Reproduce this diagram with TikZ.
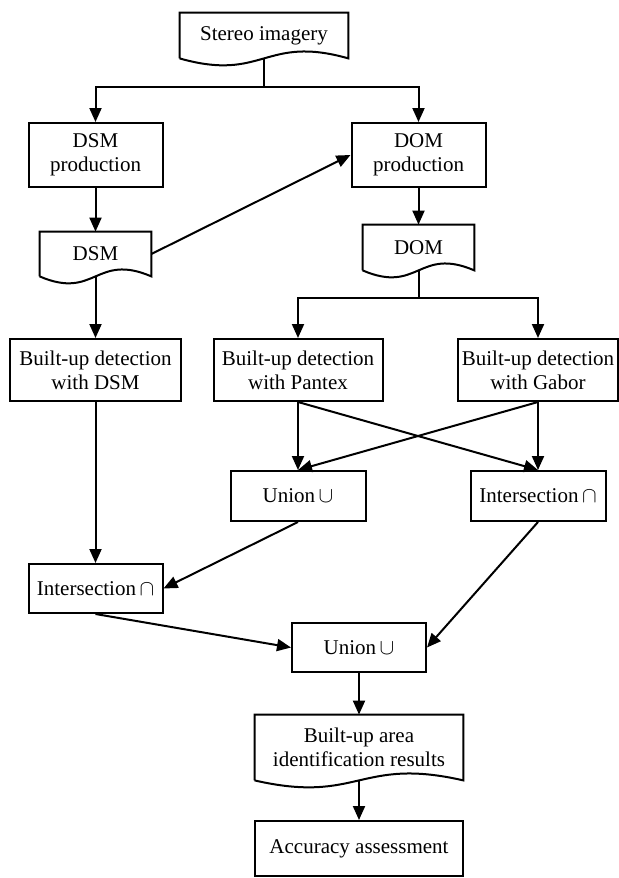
\documentclass[tikz,border=0pt]{standalone}
\usepackage{fontspec}
\setmainfont{Liberation Serif}
\usetikzlibrary{arrows.meta,calc}
\begin{document}
\begin{tikzpicture}[x=0.5pt,y=-0.5pt,
  txt/.style={align=center, inner sep=0pt, font=\fontsize{10.5}{12}\selectfont},
  box/.style={txt, draw, line width=1pt},
  doc/.style={txt},
  sz/.style 2 args={minimum width=#1*0.5pt, minimum height=#2*0.5pt},
  ln/.style={line width=1pt},
  arr/.style={line width=1pt, -{Triangle[length=7pt,width=6pt]}}]
\useasboundingbox (0,0) rectangle (619,878);

% nodes
\node[doc, sz={168}{45}] (stereo) at (264,35.5) {Stereo imagery};
\node[box, sz={134}{64}] (dsmprod) at (95.5,155) {DSM\\production};
\node[box, sz={134}{64}] (domprod) at (418.5,155) {DOM\\production};
\node[doc, sz={111}{44}] (dsmdoc) at (95.5,254) {DSM};
\node[doc, sz={111}{45}] (domdoc) at (418.5,247.5) {DOM};
\node[box, sz={171}{62}] (dsmdet) at (95.5,370) {Built-up detection\\with DSM};
\node[box, sz={169}{62}] (pantex) at (298,370) {Built-up detection\\with Pantex};
\node[box, sz={160}{62}] (gabor) at (538,370) {Built-up detection\\with Gabor};
\node[box, sz={135}{50}] (union1) at (298,496) {Union\,$\cup$};
\node[box, sz={135}{50}] (inter1) at (538,496) {Intersection\,$\cap$};
\node[box, sz={134}{49}] (inter2) at (95.5,588.5) {Intersection\,$\cap$};
\node[box, sz={134}{49}] (union2) at (359,647.5) {Union\,$\cup$};
\node[doc, sz={208}{65}] (result) at (359,747.5) {Built-up area\\identification results};
\node[box, sz={208}{55}] (acc) at (359,848.5) {Accuracy assessment};

% document outlines
\foreach \n in {stereo,dsmdoc,domdoc,result}{
  \draw[ln, line join=miter] (\n.south west) -- (\n.north west) -- (\n.north east) -- (\n.south east)
    .. controls ($(\n.south)+(0,-24)$) and ($(\n.south)+(0,24)$) .. (\n.south west);
}

% connectors
\coordinate (j1) at (264,87);
\coordinate (j2) at (418.5,298);
\draw[ln] (stereo.south) -- (j1);
\draw[arr] (j1) -| (dsmprod.north);
\draw[arr] (j1) -| (domprod.north);
\draw[arr] (dsmprod.south) -- (dsmdoc.north);
\draw[arr] (dsmdoc.east) -- (domprod.west);
\draw[arr] (domprod.south) -- (domdoc.north);
\draw[ln] (domdoc.south) -- (j2);
\draw[arr] (j2) -| (pantex.north);
\draw[arr] (j2) -| (gabor.north);
\draw[arr] (dsmdoc.south) -- (dsmdet.north);
\draw[arr] (dsmdet.south) -- (inter2.north);
\draw[arr] (pantex.south) -- (union1.north);
\draw[arr] (pantex.south) -- (inter1.north);
\draw[arr] (gabor.south) -- (inter1.north);
\draw[arr] (gabor.south) -- (union1.north);
\draw[arr] (union1.south) -- (inter2.east);
\draw[arr] (inter1.south) -- (union2.east);
\draw[arr] (inter2.south) -- (union2.west);
\draw[arr] (union2.south) -- (result.north);
\draw[arr] (result.south) -- (acc.north);
\end{tikzpicture}
\end{document}
